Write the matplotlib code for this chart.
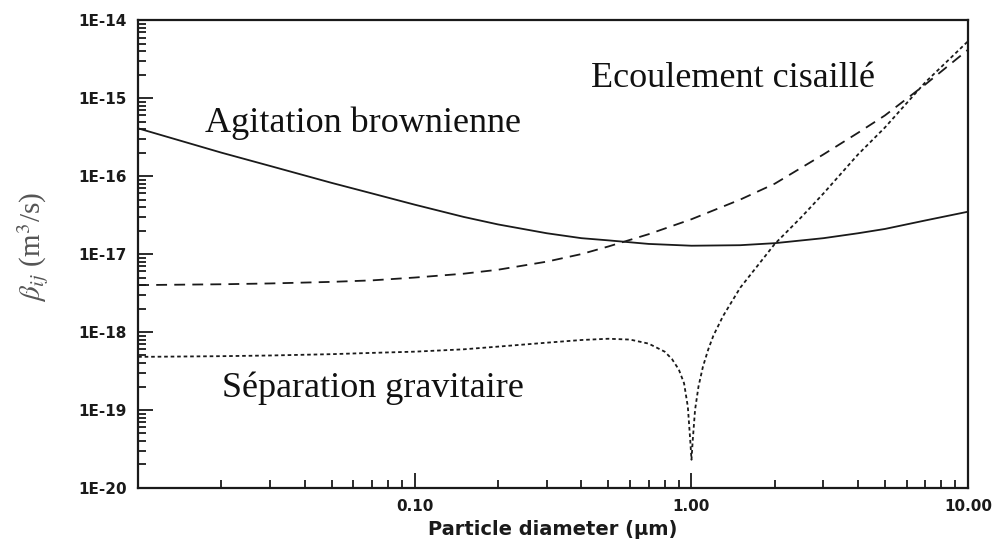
import matplotlib
matplotlib.use("Agg")
import matplotlib.pyplot as plt
from matplotlib.ticker import LogLocator, FixedLocator, NullFormatter

# particle diameter (um)
d_brown = [0.01, 0.02, 0.03, 0.05, 0.07, 0.1, 0.15, 0.2, 0.3, 0.4, 0.5,
           0.7, 1.0, 1.5, 2, 3, 4, 5, 7, 10]
beta_brown = [4.1e-16, 2.0e-16, 1.35e-16, 8.2e-17, 6.0e-17, 4.3e-17, 3.0e-17,
              2.4e-17, 1.85e-17, 1.6e-17, 1.5e-17, 1.35e-17, 1.28e-17,
              1.3e-17, 1.38e-17, 1.6e-17, 1.85e-17, 2.1e-17, 2.7e-17, 3.5e-17]

d_shear = d_brown
beta_shear = [4.0e-18, 4.1e-18, 4.2e-18, 4.4e-18, 4.6e-18, 5.0e-18, 5.6e-18,
              6.3e-18, 8.0e-18, 1.0e-17, 1.25e-17, 1.8e-17, 2.8e-17, 5.0e-17,
              8.0e-17, 1.9e-16, 3.6e-16, 6.0e-16, 1.5e-15, 4.2e-15]

d_grav = [0.01, 0.02, 0.03, 0.05, 0.07, 0.1, 0.15, 0.2, 0.3, 0.4, 0.5, 0.6,
          0.7, 0.8, 0.85, 0.9, 0.94, 0.97, 0.99, 1.0, 1.01, 1.03, 1.06, 1.1,
          1.15, 1.2, 1.3, 1.5, 1.7, 2, 2.5, 3, 4, 5, 7, 10]
beta_grav = [4.8e-19, 4.9e-19, 5.0e-19, 5.2e-19, 5.4e-19, 5.6e-19, 6.0e-19,
             6.5e-19, 7.3e-19, 7.9e-19, 8.2e-19, 8.0e-19, 7.1e-19, 5.6e-19,
             4.5e-19, 3.3e-19, 2.2e-19, 1.1e-19, 4.0e-20, 2.3e-20, 4.0e-20,
             1.0e-19, 2.0e-19, 3.6e-19, 6.0e-19, 9.0e-19, 1.6e-18, 3.7e-18,
             6.5e-18, 1.35e-17, 3.0e-17, 6.0e-17, 1.9e-16, 4.2e-16, 1.6e-15,
             5.4e-15]

xticks = [0.1, 1, 10]
xticklabels = ["0.10", "1.00", "10.00"]
yticks = [1e-20, 1e-19, 1e-18, 1e-17, 1e-16, 1e-15, 1e-14]
yticklabels = ["1E-20", "1E-19", "1E-18", "1E-17", "1E-16", "1E-15", "1E-14"]

ink = "#1a1a1a"
plt.rcParams["mathtext.fontset"] = "stix"

fig = plt.figure(figsize=(9.94, 5.47), dpi=100)
ax = fig.add_axes([0.139, 0.108, 0.835, 0.855])

ax.plot(d_brown, beta_brown, color=ink, lw=1.3, solid_capstyle="butt")
ax.plot(d_shear, beta_shear, color=ink, lw=1.3, dashes=(6, 4))
ax.plot(d_grav, beta_grav, color=ink, lw=1.3, dashes=(2, 1.6))

ax.set_xscale("log")
ax.set_yscale("log")
ax.set_xlim(0.01, 10)
ax.set_ylim(1e-20, 1e-14)

ax.xaxis.set_major_locator(FixedLocator(xticks))
ax.set_xticklabels(xticklabels)
ax.xaxis.set_minor_locator(LogLocator(base=10, subs=range(2, 10)))
ax.xaxis.set_minor_formatter(NullFormatter())
ax.yaxis.set_major_locator(FixedLocator(yticks))
ax.set_yticklabels(yticklabels)
ax.yaxis.set_minor_locator(LogLocator(base=10, subs=range(2, 10)))
ax.yaxis.set_minor_formatter(NullFormatter())

ax.tick_params(which="both", direction="in", top=False, right=False,
               color=ink, width=1.3)
ax.tick_params(which="major", length=11, pad=8)
ax.tick_params(which="minor", length=5.5)
for lab in ax.get_xticklabels() + ax.get_yticklabels():
    lab.set_fontweight("bold")
    lab.set_fontsize(11)
    lab.set_family("DejaVu Sans")
    lab.set_color(ink)

for sp in ax.spines.values():
    sp.set_linewidth(1.6)
    sp.set_color(ink)

ax.set_xlabel("Particle diameter (\u03bcm)", fontsize=14, color=ink,
              family="DejaVu Sans", fontweight="bold", labelpad=4)
ax.set_ylabel(r"$\beta_{ij}$ (m$^3$/s)", fontsize=21, color="#555555",
              family="Liberation Serif")
ax.yaxis.set_label_coords(-0.105, 0.515)

serif = dict(family="Liberation Serif", fontsize=26, color="#111111",
             va="baseline", ha="left")
ax.text(0.0175, 3.66e-16, "Agitation brownienne", **serif)
ax.text(0.435, 1.38e-15, "Ecoulement cisaillé", **serif)
ax.text(0.0201, 1.48e-19, "Séparation gravitaire", **serif)

fig.savefig("out.png", dpi=100)
